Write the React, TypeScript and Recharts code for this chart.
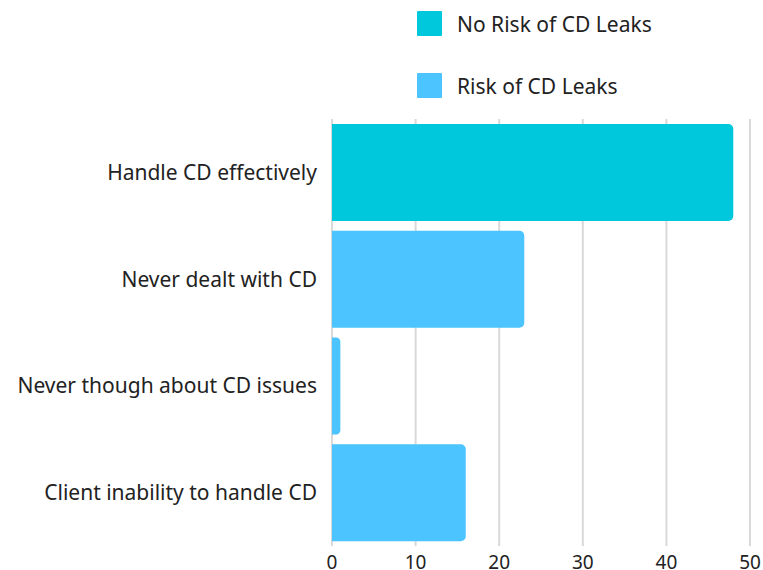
import React from "react";
import { BarChart, Bar, XAxis, YAxis, CartesianGrid, Legend } from "recharts";

// Survey answers, one row per category
const categories = [
  "Handle CD effectively",
  "Never dealt with CD",
  "Never though about CD issues",
  "Client inability to handle CD",
];
const noRiskValues = [48, 0, 0, 0];
const riskValues = [0, 23, 1, 16];
const xTicks = [0, 10, 20, 30, 40, 50];

const seriesNames = ["No Risk of CD Leaks", "Risk of CD Leaks"];
const seriesColors = ["#00C8DC", "#4BC4FF"];

const data = categories.map((name, i) => ({
  name,
  noRisk: noRiskValues[i],
  risk: riskValues[i],
}));

const FONT = "'Noto Sans', sans-serif";
const TEXT = "#222222";

function LegendBox(props: any) {
  const payload = props.payload || [];
  return (
    <div style={{ paddingLeft: 417, paddingTop: 11, fontFamily: FONT }}>
      {payload.map((entry: any, i: number) => (
        <div
          key={i}
          style={{
            display: "flex",
            alignItems: "center",
            height: 25,
            marginBottom: 37,
          }}
        >
          <div
            style={{
              width: 25,
              height: 25,
              background: entry.color,
              borderRadius: 1,
            }}
          />
          <span style={{ marginLeft: 15, fontSize: 21, color: TEXT }}>
            {entry.value}
          </span>
        </div>
      ))}
    </div>
  );
}

export default function App() {
  return (
    <div style={{ position: "absolute", left: 0, top: 0, background: "#fff" }}>
      <BarChart
        width={763}
        height={570}
        data={data}
        layout="vertical"
        margin={{ top: 119, right: 13, bottom: 0, left: 0 }}
        barCategoryGap={5}
      >
        <CartesianGrid
          horizontal={false}
          vertical={true}
          stroke="#d9d9d9"
          strokeWidth={2}
        />
        <XAxis
          type="number"
          domain={[0, 50]}
          ticks={xTicks}
          axisLine={false}
          tickLine={false}
          tickSize={0}
          tickMargin={10}
          height={24}
          tick={{ fill: TEXT, fontSize: 19, fontFamily: FONT }}
        />
        <YAxis
          type="category"
          dataKey="name"
          width={332}
          axisLine={false}
          tickLine={false}
          tickSize={0}
          tickMargin={15}
          tick={{ fill: TEXT, fontSize: 21, fontFamily: FONT }}
        />
        <Legend
          layout="vertical"
          align="center"
          verticalAlign="middle"
          wrapperStyle={{ top: 0, left: 0, width: 763 }}
          content={<LegendBox />}
        />
        <Bar
          dataKey="noRisk"
          name={seriesNames[0]}
          stackId="a"
          fill={seriesColors[0]}
          radius={[0, 5, 5, 0]}
          isAnimationActive={false}
        />
        <Bar
          dataKey="risk"
          name={seriesNames[1]}
          stackId="a"
          fill={seriesColors[1]}
          radius={[0, 5, 5, 0]}
          isAnimationActive={false}
        />
      </BarChart>
    </div>
  );
}
